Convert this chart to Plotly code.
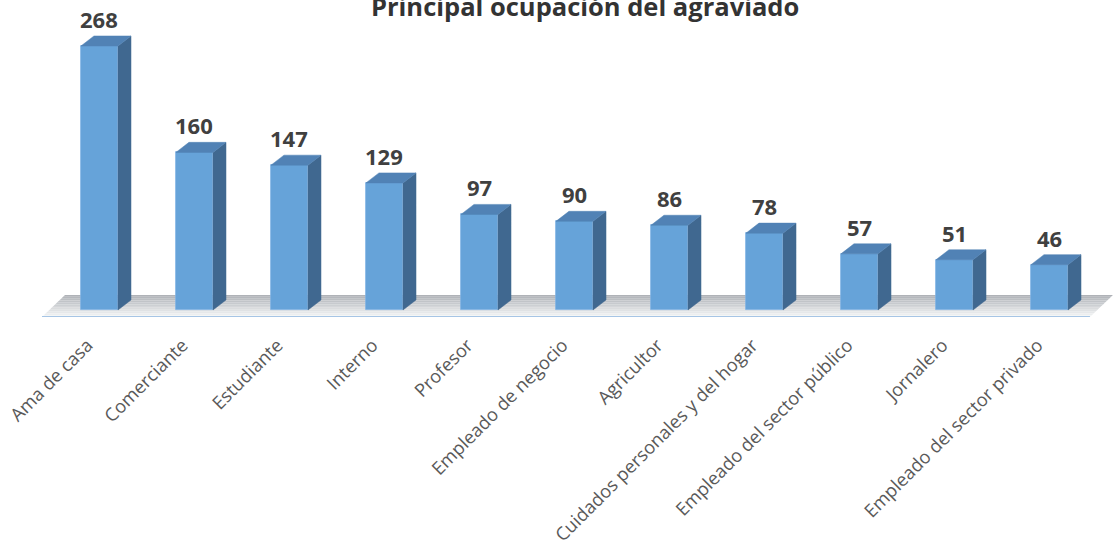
import plotly.graph_objects as go

categories = ["Ama de casa", "Comerciante", "Estudiante", "Interno", "Profesor",
              "Empleado de negocio", "Agricultor", "Cuidados personales y del hogar",
              "Empleado del sector público", "Jornalero", "Empleado del sector privado"]
values = [268, 160, 147, 129, 97, 90, 86, 78, 57, 51, 46]
title_text = "Principal ocupación del agraviado"

W, H = 1114, 546
# geometry (data units)
bw = 0.39      # bar front width
dx = 0.137     # depth offset in x
dy = 10.2      # depth offset in y
xr = [-1.047, 10.679]
yr = [-7.1, 314.7]

FRONT = "#66A3D9"
SIDE = "#406890"
TOP = "#5182B5"

xs = list(range(len(categories)))

fig = go.Figure()

# floor gradient strips
y_front, y_back = -7.1, 15.2
x_fl, x_bl = -0.605, -0.363
x_fr, x_br = 10.426, 10.668
n = 12
c0 = (172, 176, 181)
c1 = (246, 247, 248)
shapes = []
for k in range(n):
    t0 = k / n
    t1 = (k + 1) / n
    ya = y_back + (y_front - y_back) * t0
    yb = y_back + (y_front - y_back) * t1
    xla = x_bl + (x_fl - x_bl) * t0
    xlb = x_bl + (x_fl - x_bl) * t1
    xra = x_br + (x_fr - x_br) * t0
    xrb = x_br + (x_fr - x_br) * t1
    tm = (t0 + t1) / 2
    c = tuple(int(c0[j] + (c1[j] - c0[j]) * tm) for j in range(3))
    shapes.append(dict(type="path", xref="x", yref="y", layer="below",
                       path=f"M{xla},{ya} L{xra},{ya} L{xrb},{yb} L{xlb},{yb} Z",
                       fillcolor=f"rgb{c}", line=dict(width=0)))
shapes.append(dict(type="line", xref="x", yref="y", x0=x_fl, x1=x_fr, y0=y_front, y1=y_front,
                   line=dict(color="#A7C5E5", width=2), layer="above"))

sx, sy, tx, ty = [], [], [], []
for i, v in zip(xs, values):
    r = i + bw / 2
    l = i - bw / 2
    sx += [r, r + dx, r + dx, r, r, None]
    sy += [0, dy, v + dy, v, 0, None]
    tx += [l, r, r + dx, l + dx, l, None]
    ty += [v, v, v + dy, v + dy, v, None]

fig.add_trace(go.Scatter(x=sx, y=sy, mode="lines", fill="toself", fillcolor=SIDE,
                         line=dict(color=SIDE, width=0.5), hoverinfo="skip", showlegend=False))
fig.add_trace(go.Scatter(x=tx, y=ty, mode="lines", fill="toself", fillcolor=TOP,
                         line=dict(color=TOP, width=0.5), hoverinfo="skip", showlegend=False))
fig.add_trace(go.Bar(x=xs, y=values, width=bw, marker=dict(color=FRONT, line=dict(color="#7FB3E3", width=0.8)),
                     showlegend=False))

annotations = []
for i, v in zip(xs, values):
    annotations.append(dict(x=i, y=v, xref="x", yref="y", text=f"<b>{v}</b>", showarrow=False,
                            yanchor="bottom", yshift=10,
                            font=dict(family="Open Sans", size=22, color="#404040")))
annotations.append(dict(x=585 / W, y=1, xref="paper", yref="paper", text=f"<b>{title_text}</b>",
                        showarrow=False, xanchor="center", yanchor="top", yshift=13,
                        font=dict(family="Open Sans", size=25.5, color="#333333")))

fig.update_layout(
    width=W, height=H,
    margin=dict(l=0, r=0, t=0, b=229),
    paper_bgcolor="white", plot_bgcolor="white",
    shapes=shapes, annotations=annotations,
    xaxis=dict(range=xr, tickmode="array", tickvals=xs, ticktext=categories, tickangle=-45,
               showgrid=False, zeroline=False, showline=False, ticks="", automargin=False,
               ticklabelshift=-12, ticklabelstandoff=13,
               tickfont=dict(family="Open Sans", size=18.3, color="#595959")),
    yaxis=dict(range=yr, visible=False, showgrid=False, zeroline=False, automargin=False),
    bargap=0,
)

fig.write_html("out.html", config={"displayModeBar": False},
               post_script="document.body.style.margin='0';")
